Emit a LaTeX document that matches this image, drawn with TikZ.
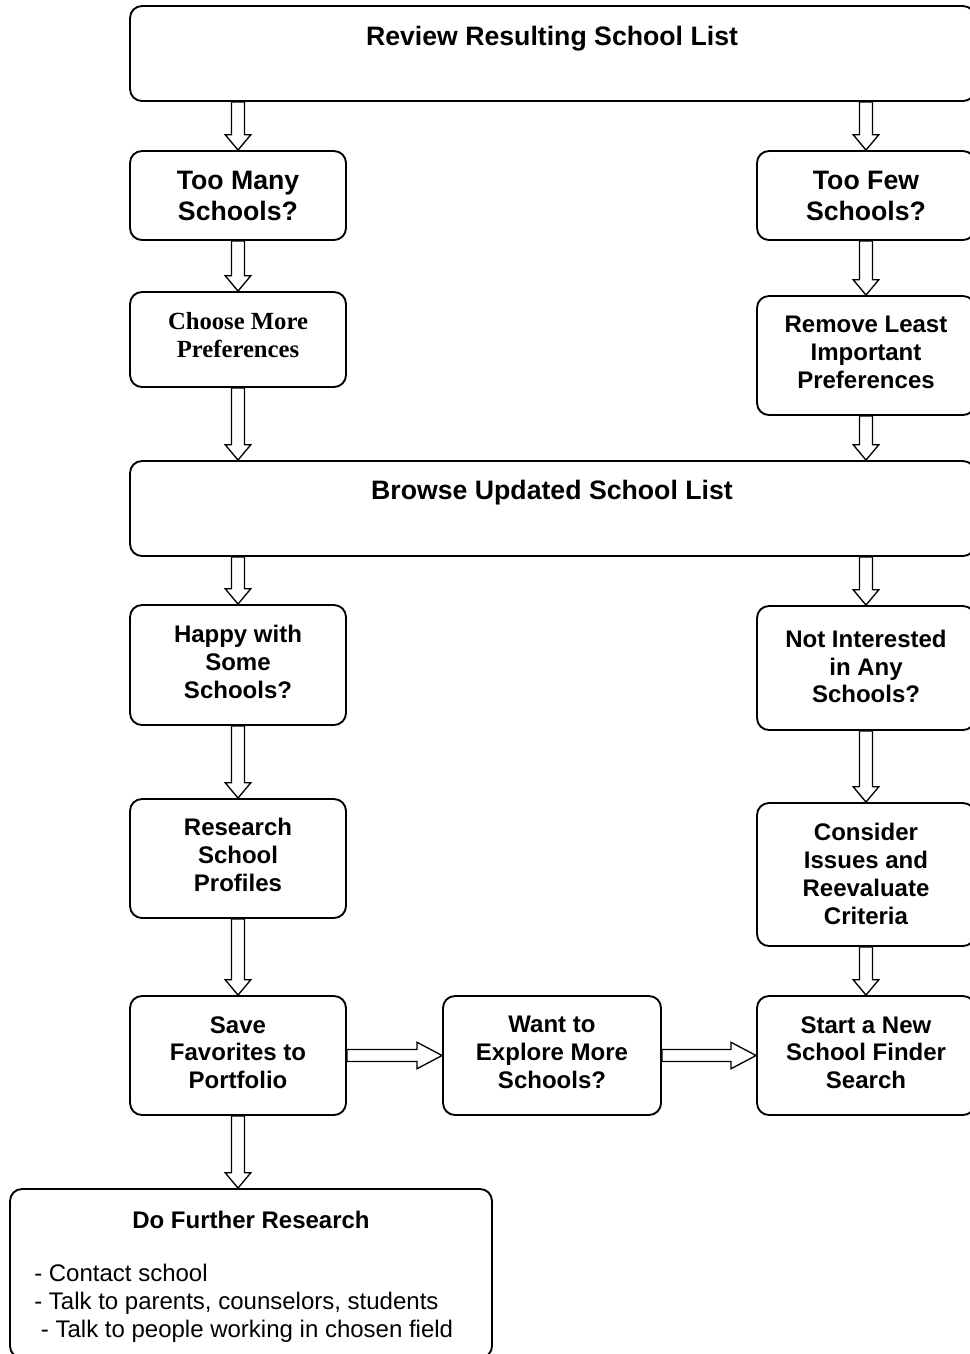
\documentclass[tikz,border=0pt]{standalone}
\usepackage{fontspec}
\setmainfont{Liberation Sans}
\newfontfamily\prefserif{Liberation Serif}
\usetikzlibrary{calc,fit}

\tikzset{
  box/.style={draw, line width=1.4pt, rounded corners=9pt, inner sep=0pt},
  bigtxt/.style={font=\fontsize{20}{23.25}\selectfont\bfseries, align=center, inner sep=0pt},
  midtxt/.style={font=\fontsize{18}{20.8}\selectfont\bfseries, align=center, inner sep=0pt},
  sertxt/.style={font=\prefserif\fontsize{18.5}{21}\selectfont\bfseries, align=center, inner sep=0pt},
  listtxt/.style={font=\fontsize{18}{21}\selectfont, align=left, inner sep=0pt, anchor=west},
  % hollow block arrow pointing down
  downblk/.style={draw, line width=1pt, line join=miter,
    to path={let \p1=(\tikztostart), \p2=(\tikztotarget) in
      (\x1-4.9pt,\y1) -- (\x1-4.9pt,\y2+11.5pt) -- (\x1-9.6pt,\y2+11.5pt) -- (\x1,\y2)
      -- (\x1+9.6pt,\y2+11.5pt) -- (\x1+4.9pt,\y2+11.5pt) -- (\x1+4.9pt,\y1) -- cycle}},
  % hollow block arrow pointing right
  rightblk/.style={draw, line width=1pt, line join=miter,
    to path={let \p1=(\tikztostart), \p2=(\tikztotarget) in
      (\x1,\y1+4.5pt) -- (\x2-18.75pt,\y1+4.5pt) -- (\x2-18.75pt,\y1+9.9pt) -- (\x2,\y1)
      -- (\x2-18.75pt,\y1-9.9pt) -- (\x2-18.75pt,\y1-4.5pt) -- (\x1,\y1-4.5pt) -- cycle}},
}

\begin{document}
\begin{tikzpicture}[x=0.75pt,y=-0.75pt]
\useasboundingbox (0,0) rectangle (970,1354);

% boxes
\node[box, fit={(130,6) (975,101)}] (review) {};
\node[box, fit={(130,151) (346,240)}] (toomany) {};
\node[box, fit={(757,151) (975,240)}] (toofew) {};
\node[box, fit={(130,292) (346,387)}] (choose) {};
\node[box, fit={(757,296) (975,415)}] (remove) {};
\node[box, fit={(130,461) (975,556)}] (browse) {};
\node[box, fit={(130,605) (346,725)}] (happy) {};
\node[box, fit={(757,606) (975,730)}] (notint) {};
\node[box, fit={(130,799) (346,918)}] (research) {};
\node[box, fit={(757,803) (975,946)}] (consider) {};
\node[box, fit={(130,996) (346,1115)}] (save) {};
\node[box, fit={(443,996) (661,1115)}] (want) {};
\node[box, fit={(757,996) (975,1115)}] (start) {};
\node[box, fit={(10,1189) (492,1358)}] (further) {};

% texts
\node[bigtxt] (reviewT) at (552,38.5) {Review Resulting School List};
\node[bigtxt] (toomanyT) at (238,196) {Too Many\\Schools?};
\node[bigtxt] (toofewT) at (866,196) {Too Few\\Schools?};
\node[sertxt] (chooseT) at (238,335) {Choose More\\Preferences};
\node[midtxt] (removeT) at (866,352.5) {Remove Least\\Important\\Preferences};
\node[bigtxt] (browseT) at (552,492.5) {Browse Updated School List};
\node[midtxt] (happyT) at (238,662) {Happy with\\Some\\Schools?};
\node[midtxt] (notintT) at (866,666.5) {Not Interested\\in Any\\Schools?};
\node[midtxt] (researchT) at (238,855) {Research\\School\\Profiles};
\node[midtxt] (considerT) at (866,874) {Consider\\Issues and\\Reevaluate\\Criteria};
\node[midtxt] (saveT) at (238,1052.5) {Save\\Favorites to\\Portfolio};
\node[midtxt] (wantT) at (552,1052.5) {Want to\\Explore More\\Schools?};
\node[midtxt] (startT) at (866,1052.5) {Start a New\\School Finder\\Search};
\node[midtxt] (furtherT) at (251,1219.5) {Do Further Research};
\node[listtxt] (furtherL) at (34,1303) {- Contact school\\- Talk to parents, counselors, students\\\hspace*{5pt}- Talk to people working in chosen field};

% connectors
\draw[downblk] (review.south -| toomany.north) to (toomany.north);
\draw[downblk] (review.south -| toofew.north) to (toofew.north);
\draw[downblk] (toomany.south) to (choose.north);
\draw[downblk] (toofew.south) to (remove.north);
\draw[downblk] (choose.south) to (choose.south |- browse.north);
\draw[downblk] (remove.south) to (remove.south |- browse.north);
\draw[downblk] (browse.south -| happy.north) to (happy.north);
\draw[downblk] (browse.south -| notint.north) to (notint.north);
\draw[downblk] (happy.south) to (research.north);
\draw[downblk] (notint.south) to (consider.north);
\draw[downblk] (research.south) to (save.north);
\draw[downblk] (consider.south) to (start.north);
\draw[rightblk] (save.east) to (want.west);
\draw[rightblk] (want.east) to (start.west);
\draw[downblk] (save.south) to (save.south |- further.north);
\end{tikzpicture}
\end{document}
